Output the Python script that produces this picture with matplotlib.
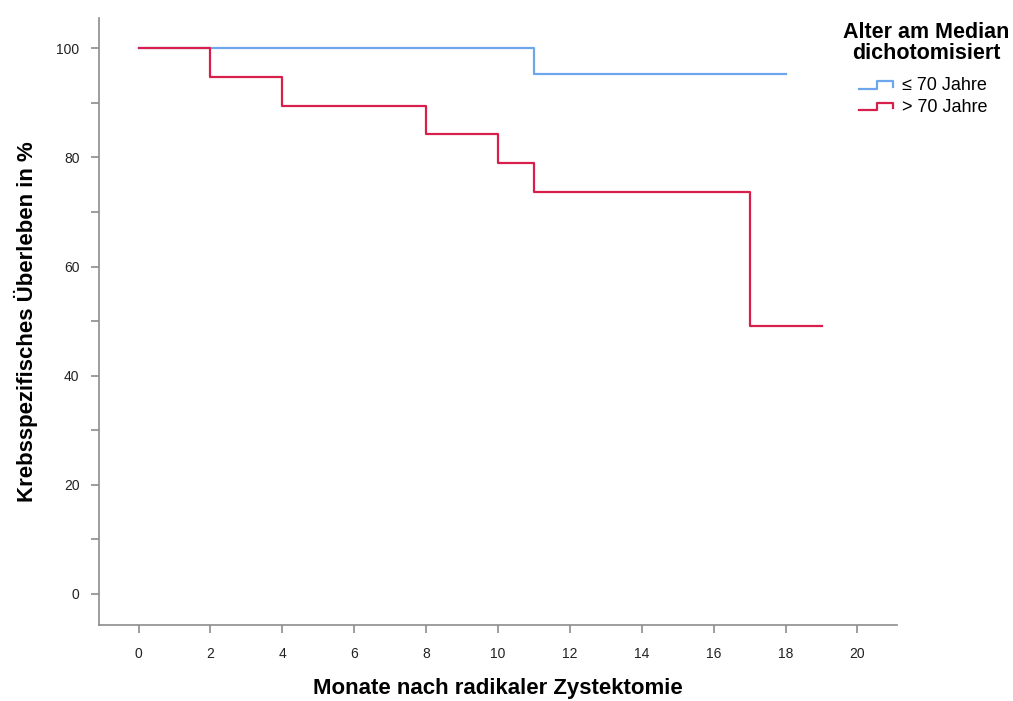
import matplotlib
matplotlib.use("Agg")
import matplotlib.pyplot as plt
from matplotlib.legend_handler import HandlerBase
from matplotlib.lines import Line2D
from matplotlib.ticker import MultipleLocator

plt.rcParams['font.family'] = ['Liberation Sans', 'DejaVu Sans']

# Kaplan-Meier Stufen (Monate, Überleben in %)
t_jung = [0, 11, 18]
s_jung = [100, 95.2, 95.2]
t_alt = [0, 2, 4, 8, 10, 11, 17, 19]
s_alt = [100, 94.7, 89.5, 84.2, 78.9, 73.7, 49.1, 49.1]

labels = ["\u2264 70 Jahre", "> 70 Jahre"]
farben = ["#6ea6ee", "#d81f4c"]
achsfarbe = "#8c8c8c"


class StufenHandler(HandlerBase):
    # Legendensymbol als kleine Treppenkurve
    def create_artists(self, legend, orig_handle, xdescent, ydescent,
                       width, height, fontsize, trans):
        x0, x1 = -xdescent, -xdescent + width
        y_lo, y_hi = -ydescent + 0.1 * height, -ydescent + 0.7 * height
        xm = x0 + 0.52 * width
        xs = [x0, xm, xm, x1, x1]
        ys = [y_lo, y_lo, y_hi, y_hi, y_lo + 0.15 * height]
        ln = Line2D(xs, ys, color=orig_handle.get_color(),
                    lw=orig_handle.get_linewidth(), transform=trans)
        return [ln]


fig = plt.figure(figsize=(10.13, 7.01), dpi=100)
ax = fig.add_axes([0.0977, 0.1084, 0.7878, 0.8656])

h1, = ax.step(t_jung, s_jung, where='post', color=farben[0], lw=1.6)
h2, = ax.step(t_alt, s_alt, where='post', color=farben[1], lw=1.6)

ax.set_xlim(-1.1, 21.1)
ax.set_ylim(-5.7, 105.5)
ax.xaxis.set_major_locator(MultipleLocator(2))
ax.yaxis.set_major_locator(MultipleLocator(20))
ax.yaxis.set_minor_locator(MultipleLocator(10))

for s in ['top', 'right']:
    ax.spines[s].set_visible(False)
for s in ['left', 'bottom']:
    ax.spines[s].set_color(achsfarbe)
    ax.spines[s].set_linewidth(1.2)

ax.tick_params(axis='both', which='both', direction='out', color=achsfarbe,
               width=1.2, labelsize=10, labelcolor='#222222')
ax.tick_params(axis='x', which='major', length=6, pad=10)
ax.tick_params(axis='y', which='major', length=6, pad=8)
ax.tick_params(axis='y', which='minor', length=6)

ax.set_xlabel("Monate nach radikaler Zystektomie", fontsize=16,
              fontweight='bold')
ax.xaxis.set_label_coords(0.5, -0.088)
ax.set_ylabel("Krebsspezifisches Überleben in %", fontsize=16,
              fontweight='bold', labelpad=13)

# Legende: Titel zentriert darüber, Einträge mit Treppensymbol
fig.text(926 / 1013, 1 - 43 / 701, "Alter am Median\ndichotomisiert",
         ha='center', va='center', fontsize=15.5, fontweight='bold',
         linespacing=1.05)
fig.legend([h1, h2], labels, handler_map={Line2D: StufenHandler()},
           fontsize=13, frameon=False, loc='upper left',
           bbox_to_anchor=(859 / 1013, 1 - 77 / 701), borderpad=0,
           borderaxespad=0, handlelength=1.9, handletextpad=0.5,
           labelspacing=0.25)

fig.savefig("out.png", dpi=100)
